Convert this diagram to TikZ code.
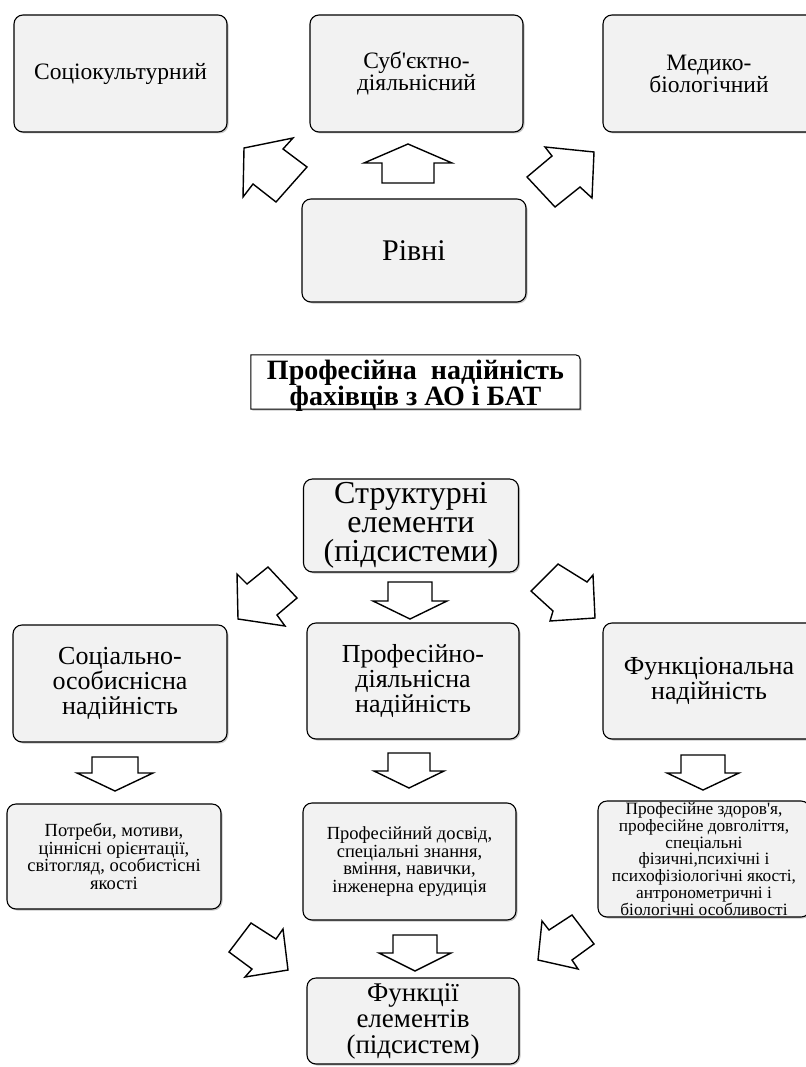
\documentclass[tikz,border=0pt]{standalone}
\usepackage{fontspec}
\setmainfont{Liberation Serif}[Ligatures=TeXOff]
\usetikzlibrary{shadows,backgrounds}
\definecolor{boxgray}{HTML}{F2F2F2}
\tikzset{
  box/.style={draw, rounded corners=9pt, fill=boxgray, line width=1.1pt, align=center, inner sep=1pt,
    drop shadow={shadow xshift=1.5pt, shadow yshift=-1.5pt, opacity=0.45}},
  blockarrow/.style={draw, fill=white, line width=1.4pt, line join=miter},
  topfont/.style={font=\fontsize{23.5}{22}\selectfont},
  midfont/.style={font=\fontsize{26}{25}\selectfont},
  lowfont/.style={font=\fontsize{18.5}{17.5}\selectfont}
}
\begin{document}
\begin{tikzpicture}[x=1pt,y=-1pt]
  \useasboundingbox (0,0) rectangle (805,1067);

  % levels
  \node[box, topfont, minimum width=213pt, minimum height=117pt] (socio) at (120.5,73.5) {Соціокультурний};
  \node[box, topfont, minimum width=213pt, minimum height=117pt] (subj) at (416.5,73.5) {Суб'єктно-\\діяльнісний};
  \node[box, topfont, minimum width=212pt, minimum height=117pt] (med) at (709,73.5) {Медико-\\біологічний};
  \node[box, font=\fontsize{30}{28}\selectfont, minimum width=224pt, minimum height=103pt] (rivni) at (414,250.5) {Рівні};

  % title
  \node[inner sep=0pt, align=center, minimum width=329pt, minimum height=54pt,
    font=\bfseries\fontsize{28}{23}\selectfont] (title) at (415.5,386) {Професійна\ \ надійність\\фахівців з АО і БАТ};
  \begin{scope}[on background layer]
    \draw[fill=white, line width=1pt, drop shadow={shadow xshift=1.5pt, shadow yshift=-1.5pt, opacity=0.45}]
      ([yshift=4pt]title.south west) -- ([yshift=4pt]title.north west) -- ([xshift=-10pt,yshift=4pt]title.north east)
      .. controls ([yshift=4pt]title.north east) .. ([yshift=-6pt]title.north east) -- ([yshift=4pt]title.south east) -- cycle;
  \end{scope}

  % structural elements
  \node[box, font=\fontsize{32}{29}\selectfont, minimum width=215pt, minimum height=93pt] (struct) at (411,525.5) {Структурні\\елементи\\(підсистеми)};
  \node[box, midfont, minimum width=214pt, minimum height=117pt] (socpers) at (120,683.5) {Соціально-\\особиснісна\\надійність};
  \node[box, midfont, minimum width=212pt, minimum height=116pt] (profact) at (413,681) {Професійно-\\діяльнісна\\надійність};
  \node[box, midfont, minimum width=212pt, minimum height=116pt] (funcrel) at (709,681) {Функціональна\\надійність};

  % contents
  \node[box, lowfont, minimum width=214pt, minimum height=105pt] (needs) at (114,856.5) {Потреби, мотиви,\\ціннісні орієнтації,\\світогляд, особистісні\\якості};
  \node[box, lowfont, minimum width=213pt, minimum height=117pt] (exper) at (409.5,861.5) {Професійний досвід,\\спеціальні знання,\\вміння, навички,\\інженерна ерудиція};
  \node[box, font=\fontsize{17.3}{16.7}\selectfont, minimum width=212pt, minimum height=116pt] (health) at (704,859) {Професійне здоров'я,\\професійне довголіття,\\спеціальні\\фізичні,психічні і\\психофізіологічні якості,\\антронометричні і\\біологічні особливості};
  \node[box, font=\fontsize{27}{26}\selectfont, minimum width=212pt, minimum height=86pt] (funcel) at (413,1021) {Функції\\елементів\\(підсистем)};

  % straight block arrows
  \foreach \cx/\ytop/\yhead/\ytip/\sw/\hw in {408/183/163/144/26/44, 410/582/601/619/22/37,
      115/757/773/791/23/38, 409/753/771/788/21/35, 703/755/773/790/22/36, 415/935/953/971/22/36}
    \draw[blockarrow] (\cx-\sw,\ytop) -- (\cx+\sw,\ytop) -- (\cx+\sw,\yhead) -- (\cx+\hw,\yhead)
      -- (\cx,\ytip) -- (\cx-\hw,\yhead) -- (\cx-\sw,\yhead) -- cycle;

  % slanted block arrows
  \draw[blockarrow] (244,148) -- (293,138) -- (283,149) -- (307,167) -- (276,202) -- (253,184) -- (243,197) -- cycle;
  \draw[blockarrow] (594,152) -- (592,198) -- (580,187) -- (555,207) -- (527,177) -- (552,156) -- (545,147) -- cycle;
  \draw[blockarrow] (238,619) -- (237,574) -- (247,584) -- (268,567) -- (297,598) -- (277,615) -- (285,626) -- cycle;
  \draw[blockarrow] (595,618) -- (550,621) -- (553,611) -- (531,591) -- (558,564) -- (587,582) -- (593,575) -- cycle;
  \draw[blockarrow] (288,970) -- (283,929) -- (276,939) -- (251,923) -- (229,952) -- (252,969) -- (245,977) -- cycle;
  \draw[blockarrow] (538,960) -- (542,921) -- (549,930) -- (572,915) -- (594,944) -- (572,960) -- (578,969) -- cycle;
\end{tikzpicture}
\end{document}
